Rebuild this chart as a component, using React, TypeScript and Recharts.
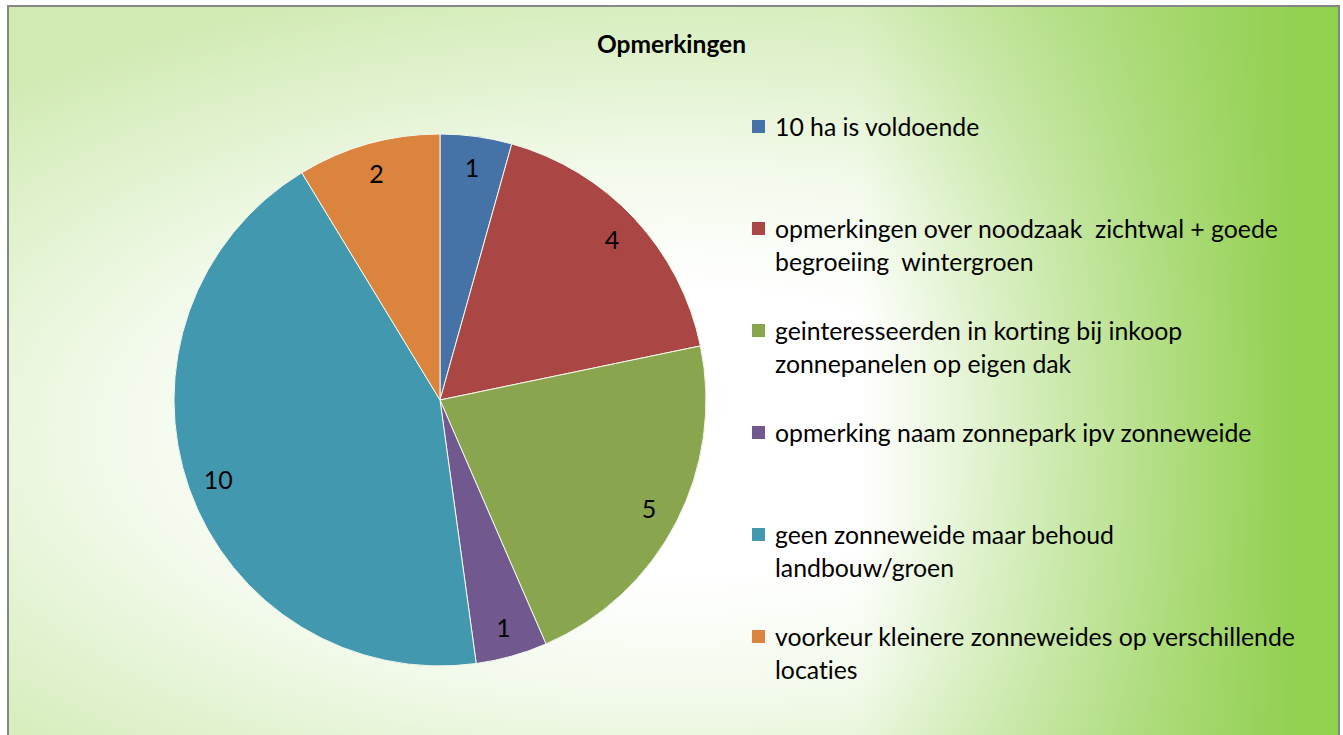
import { PieChart, Pie, Cell, Legend } from 'recharts'

const categories = [
  '10 ha is voldoende',
  'opmerkingen over noodzaak  zichtwal + goede\nbegroeiing  wintergroen',
  'geinteresseerden in korting bij inkoop\nzonnepanelen op eigen dak',
  'opmerking naam zonnepark ipv zonneweide',
  'geen zonneweide maar behoud\nlandbouw/groen',
  'voorkeur kleinere zonneweides op verschillende\nlocaties',
]
const counts = [1, 4, 5, 1, 10, 2]
const colors = ['#4572A7', '#AA4643', '#89A54E', '#71588F', '#4198AF', '#DB843D']

const data = categories.map((name, i) => ({ name, value: counts[i] }))

const RADIAN = Math.PI / 180
const FONT = 'Lato, "Open Sans", sans-serif'

function renderLabel(props: any) {
  const { cx, cy, midAngle, outerRadius, value } = props
  const r = outerRadius * 0.885
  const x = cx + r * Math.cos(-midAngle * RADIAN)
  const y = cy + r * Math.sin(-midAngle * RADIAN)
  return (
    <text x={x} y={y} fill="#000" fontSize={25} fontFamily={FONT} textAnchor="middle" dominantBaseline="central">
      {value}
    </text>
  )
}

function renderLegend(props: any) {
  // keep the order of the data, not alphabetical
  const items = [...(props.payload || [])].sort(
    (a: any, b: any) => categories.indexOf(a.value) - categories.indexOf(b.value)
  )
  return (
    <div style={{ position: 'relative', fontFamily: FONT, fontSize: 24.8, color: '#000', fontVariantLigatures: 'none' }}>
      {items.map((it: any, i: number) => (
        <div key={i} style={{ position: 'absolute', left: 0, top: i * 102, width: 580 }}>
          <div style={{ position: 'absolute', left: 0, top: 10, width: 13, height: 13, background: it.color }} />
          <div style={{ marginLeft: 23, lineHeight: '33px', whiteSpace: 'pre' }}>{it.value}</div>
        </div>
      ))}
    </div>
  )
}

export default function App() {
  return (
    <div style={{ position: 'absolute', left: 0, top: 0, width: 1343, height: 735, overflow: 'hidden' }}>
      <div
        style={{
          position: 'absolute',
          left: 7,
          top: 5,
          width: 1329,
          height: 760,
          border: '2px solid #868686',
          background:
            'linear-gradient(to right, rgba(146,208,80,0) 0%, rgba(146,208,80,0) 64%, rgba(146,208,80,0.5) 81%, rgba(146,208,80,1) 97%),' +
            'radial-gradient(ellipse 75% 62% at 50% 56%, #ffffff 30%, #f3faec 55%, #d0eab2 100%)',
        }}
      />
      <div
        style={{
          position: 'absolute',
          left: 0,
          top: 29,
          width: 1343,
          textAlign: 'center',
          fontFamily: FONT,
          fontWeight: 'bold',
          fontSize: 24.5,
          color: '#000',
        }}
      >
        Opmerkingen
      </div>
      <div style={{ position: 'absolute', left: 0, top: 0 }}>
        <PieChart width={1343} height={735} margin={{ top: 0, right: 0, bottom: 0, left: 0 }}>
          <Pie
            data={data}
            dataKey="value"
            nameKey="name"
            cx={440}
            cy={400}
            outerRadius={266}
            startAngle={90}
            endAngle={-270}
            stroke="#f4f8ee"
            strokeWidth={1}
            label={renderLabel}
            labelLine={false}
            isAnimationActive={false}
          >
            {data.map((_, i) => (
              <Cell key={i} fill={colors[i]} />
            ))}
          </Pie>
          <Legend
            content={renderLegend}
            wrapperStyle={{ position: 'absolute', left: 752, top: 110, width: 580, height: 600 }}
          />
        </PieChart>
      </div>
    </div>
  )
}
